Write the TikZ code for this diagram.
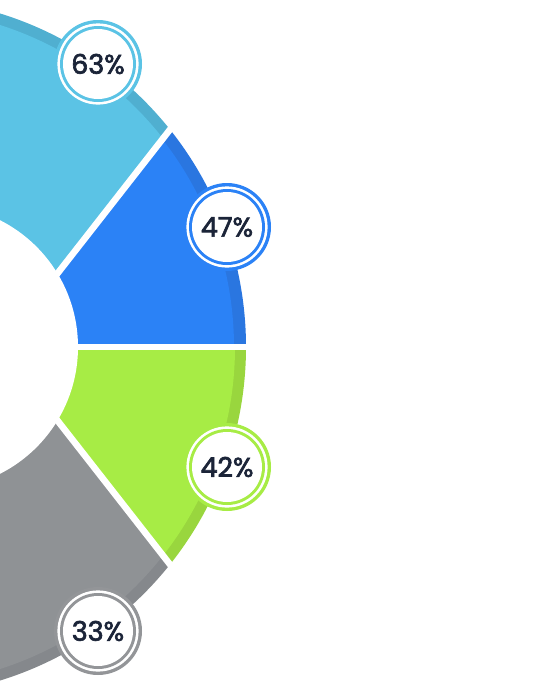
\documentclass[tikz,border=0pt]{standalone}
\usepackage{fontspec}
\newfontfamily\badgefont{Poppins}[FakeBold=2.4]
\definecolor{lbmain}{HTML}{5BC3E5}
\definecolor{lbband}{HTML}{50AFD0}
\definecolor{bmain}{HTML}{2B82F6}
\definecolor{bband}{HTML}{2A76E0}
\definecolor{gmain}{HTML}{A7EC45}
\definecolor{gband}{HTML}{99D63E}
\definecolor{ymain}{HTML}{8F9295}
\definecolor{yband}{HTML}{85888C}
\definecolor{yring}{HTML}{939598}
\definecolor{txt}{HTML}{1B2438}
\tikzset{
  badge/.style={circle, inner sep=0pt, minimum size=88pt, fill=#1, text=txt,
    font=\badgefont\fontsize{27}{27}\selectfont,
    path picture={
      \fill[white] (path picture bounding box.center) circle (40.6pt);
      \fill[#1] (path picture bounding box.center) circle (38pt);
      \fill[white] (path picture bounding box.center) circle (35pt);
    }},
  gapline/.style={white, line width=6.5pt}
}
\begin{document}
\begin{tikzpicture}[x=1pt,y=-1pt]
\useasboundingbox (0,0) rectangle (552,694);
\fill[white] (0,0) rectangle (552,694);
\coordinate (P) at (0,347);
\coordinate (C) at (-103,347);
\coordinate (I) at (-64,347);
\coordinate (U) at (308,-47);
\coordinate (D) at (308,741);
\coordinate (E) at (500,347);
% light blue
\begin{scope}
\clip (P) -- (U) -- (-200,-47) -- (-200,347) -- cycle;
\fill[lbband] (C) circle (349);
\fill[lbmain] (C) circle (338);
\end{scope}
% blue
\begin{scope}
\clip (P) -- (E) -- (500,-47) -- (U) -- cycle;
\fill[bband] (C) circle (349);
\fill[bmain] (C) circle (337);
\end{scope}
% green
\begin{scope}
\clip (P) -- (E) -- (500,741) -- (D) -- cycle;
\fill[gband] (C) circle (349);
\fill[gmain] (C) circle (338);
\end{scope}
% gray
\begin{scope}
\clip (P) -- (D) -- (-200,741) -- (-200,347) -- cycle;
\fill[yband] (C) circle (349);
\fill[ymain] (C) circle (338);
\end{scope}
\fill[white] (I) circle (142);
\draw[gapline] (U) -- (P) -- (D);
\draw[gapline] (P) -- (E);
% badges
\node[badge=lbmain] (b63) at (98,64) {63\%};
\node[badge=bmain] (b47) at (227,227) {47\%};
\node[badge=gmain] (b42) at (227,467) {42\%};
\node[badge=yring] (b33) at (98,631) {33\%};
\end{tikzpicture}
\end{document}
